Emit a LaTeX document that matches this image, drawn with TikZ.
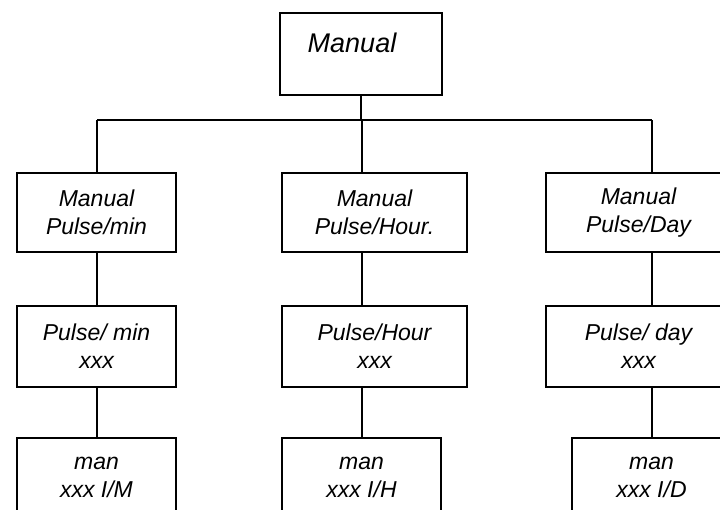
\documentclass[tikz,border=0pt]{standalone}
\usepackage{fontspec}
\setmainfont{Liberation Sans}
\begin{document}
\begin{tikzpicture}[x=1pt,y=-1pt,
  box/.style={draw=black, line width=2pt, fill=white, inner sep=0pt, align=center,
    font=\fontsize{23}{27.5}\selectfont\itshape},
  wide/.style={box, minimum width=185pt},
  narrow/.style={box, minimum width=159pt},
  rowa/.style={minimum height=79pt},
  rowb/.style={minimum height=81pt},
  rowc/.style={minimum height=80pt},
  link/.style={draw=black, line width=2pt}]
\useasboundingbox (0,0) rectangle (720,509);
\clip (0,0) rectangle (720,509);
% top
\node[box, minimum width=162pt, minimum height=82pt] (top) at (361,54) {};
\node[font=\fontsize{27}{30}\selectfont\itshape, inner sep=0pt] (toptxt) at (352,43) {Manual};
% row 1
\node[narrow, rowa] (L1) at (96.5,212.5) {Manual\\Pulse/min};
\node[wide, rowa] (M1) at (374.5,212.5) {Manual\\Pulse/Hour.};
\node[wide, rowa] (R1) at (638.5,212.5) {Manual\\Pulse/Day};
% row 2
\node[narrow, rowb] (L2) at (96.5,346) {Pulse/ min\\xxx};
\node[wide, rowb] (M2) at (374.5,346) {Pulse/Hour\\xxx};
\node[wide, rowb] (R2) at (638.5,346) {Pulse/ day\\xxx};
% row 3
\node[narrow, rowc] (L3) at (96.5,477.5) {man\\xxx I/M};
\node[narrow, rowc] (M3) at (361.5,477.5) {man\\xxx I/H};
\node[narrow, rowc] (R3) at (651.5,477.5) {man\\xxx I/D};
% bus coordinates
\coordinate (bL) at (97,120);
\coordinate (bM) at (362,120);
\coordinate (bR) at (652,120);
\coordinate (bT) at (361,120);
\draw[link] (top.south) -- (bT);
\draw[link] (bL) -- (bR);
\draw[link] (bL) -- (L1.north -| bL);
\draw[link] (bM) -- (M1.north -| bM);
\draw[link] (bR) -- (R1.north -| bR);
\draw[link] (L1.south -| bL) -- (L2.north -| bL);
\draw[link] (M1.south -| bM) -- (M2.north -| bM);
\draw[link] (R1.south -| bR) -- (R2.north -| bR);
\draw[link] (L2.south -| bL) -- (L3.north -| bL);
\draw[link] (M2.south -| bM) -- (M3.north -| bM);
\draw[link] (R2.south -| bR) -- (R3.north -| bR);
\end{tikzpicture}
\end{document}
